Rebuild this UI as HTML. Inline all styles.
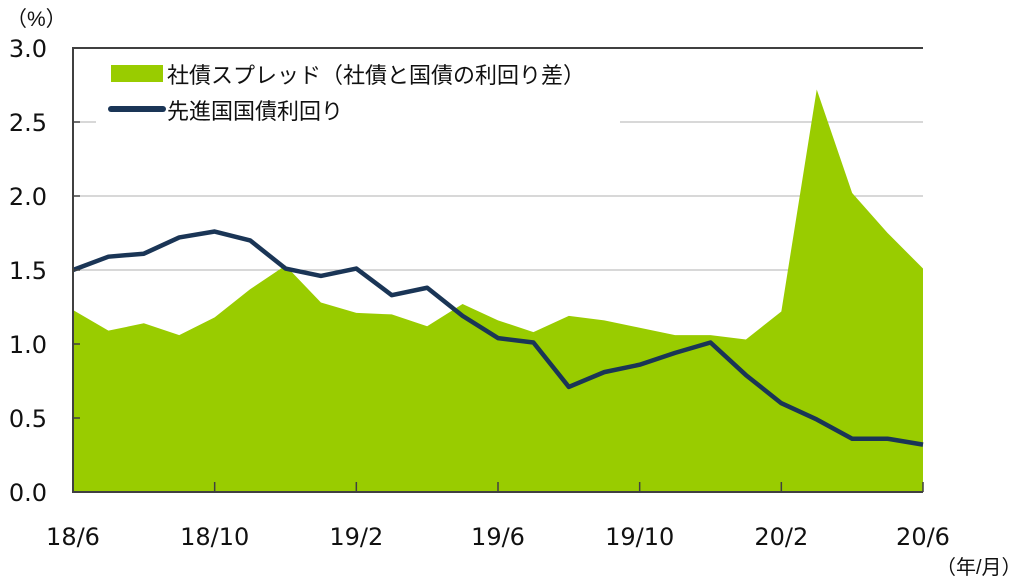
<!DOCTYPE html>
<html><head><meta charset="utf-8"><style>
body{margin:0;background:#fff}
svg text{font-family:"DejaVu Sans","Noto Sans CJK JP",sans-serif;fill:#111}
svg text.jp{font-family:"Liberation Sans","Noto Sans CJK JP",sans-serif}
</style></head><body>
<svg width="1024" height="582" viewBox="0 0 1024 582">
<g id="grid"></g>
<g id="plot"></g>
<g id="axes"></g>
<rect x="96" y="55" width="524" height="76" fill="#fff"/>
<rect x="111" y="65" width="52" height="17" fill="#99cc00"/>
<text class="jp" x="167" y="83" font-size="22">社債スプレッド（社債と国債の利回り差）</text>
<line x1="111" y1="109" x2="163" y2="109" stroke="#1a3556" stroke-width="6" stroke-linecap="round"/>
<text class="jp" x="167" y="119" font-size="22">先進国国債利回り</text>
<text class="jp" x="6" y="26" font-size="21">（%）</text>
<text class="jp" x="936" y="574" font-size="20">（年/月）</text>
</svg>
<script>
const months=['18/6','18/7','18/8','18/9','18/10','18/11','18/12','19/1','19/2','19/3','19/4','19/5','19/6','19/7','19/8','19/9','19/10','19/11','19/12','20/1','20/2','20/3','20/4','20/5','20/6'];
const spread=[1.23,1.09,1.14,1.06,1.18,1.37,1.53,1.28,1.21,1.20,1.12,1.27,1.16,1.08,1.19,1.16,1.11,1.06,1.06,1.03,1.22,2.72,2.02,1.75,1.51];
const yieldv=[1.50,1.59,1.61,1.72,1.76,1.70,1.51,1.46,1.51,1.33,1.38,1.19,1.04,1.01,0.71,0.81,0.86,0.94,1.01,0.79,0.60,0.49,0.36,0.36,0.32];
const yTicks=['0.0','0.5','1.0','1.5','2.0','2.5','3.0'];
const xTickLabels=['18/6','18/10','19/2','19/6','19/10','20/2','20/6'];
const NS='http://www.w3.org/2000/svg';
const X0=73,X1=923,Y0=492,Y1=48;
const x=i=>X0+(X1-X0)*i/(months.length-1);
const y=v=>Y0-(Y0-Y1)*v/3;
function mk(tag,attrs,parent){const e=document.createElementNS(NS,tag);for(const k in attrs)e.setAttribute(k,attrs[k]);document.getElementById(parent).appendChild(e);return e;}
yTicks.forEach((t,i)=>{const v=parseFloat(t);
 if(v>0&&v<3){const g=mk('line',{x1:X0,x2:X1,y1:y(v),y2:y(v),stroke:'#b0b0b0','stroke-width':1},'grid');
 
 }
 const tk=mk('line',{x1:X0,x2:X0+7,y1:y(v),y2:y(v),stroke:'#404040','stroke-width':1.5},'axes');
 
 
 const tx=mk('text',{x:47,y:y(v)+9,'font-size':24,'text-anchor':'end'},'axes');tx.textContent=t;
 
 
});
let d='M'+x(0)+','+Y0;spread.forEach((v,i)=>d+=' L'+x(i)+','+y(v));d+=' L'+x(spread.length-1)+','+Y0+' Z';
const area=mk('path',{d:d,fill:'#99cc00'},'plot');


const ln=mk('polyline',{points:yieldv.map((v,i)=>x(i)+','+y(v)).join(' '),fill:'none',stroke:'#1a3556','stroke-width':4.5,'stroke-linejoin':'round'},'plot');


const fr=mk('polyline',{points:`${X1},${Y1} ${X0},${Y1} ${X0},${Y0} ${X1},${Y0}`,fill:'none',stroke:'#404040','stroke-width':2},'axes');


xTickLabels.forEach(l=>{const i=months.indexOf(l);
 const tk=mk('line',{x1:x(i),x2:x(i),y1:Y0,y2:Y0-10,stroke:'#404040','stroke-width':1.5},'axes');
 
 
 const tx=mk('text',{x:x(i),y:545,'font-size':24,'text-anchor':'middle'},'axes');tx.textContent=l;
 
 
});
</script>
</body></html>
